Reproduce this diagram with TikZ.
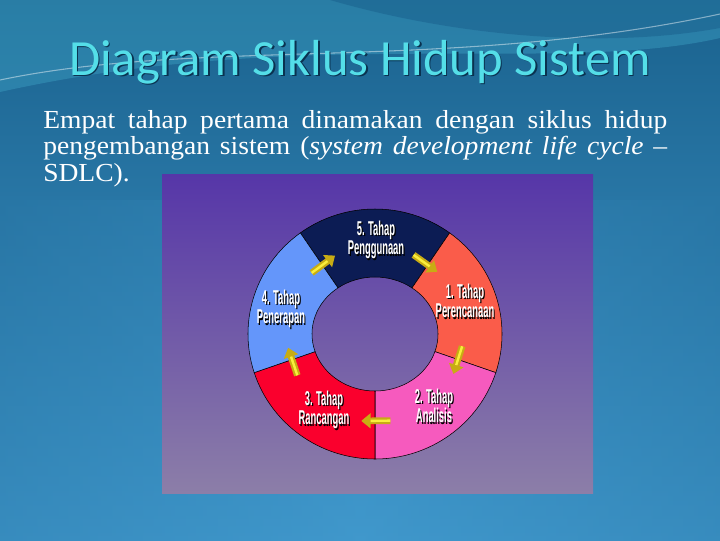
\documentclass[tikz,border=0pt]{standalone}
\usepackage{fontspec}
\usepackage{tikz}
\usetikzlibrary{arrows.meta}
\newfontfamily\titlefont{Carlito}
\newfontfamily\introfont[FakeStretch=1.06]{Liberation Serif}
\newfontfamily\stagefont[FakeStretch=0.47]{Liberation Sans}
\definecolor{slidetop}{RGB}{26,98,142}
\definecolor{slidebot}{RGB}{64,152,204}
\definecolor{slideedge}{RGB}{40,118,165}
\definecolor{paneltop}{RGB}{86,54,168}
\definecolor{panelbot}{RGB}{140,126,168}
\definecolor{titlecyan}{RGB}{84,222,232}
\definecolor{stagenavy}{RGB}{12,28,84}
\definecolor{stagesalmon}{RGB}{250,92,74}
\definecolor{stagepink}{RGB}{246,90,190}
\definecolor{stagered}{RGB}{250,0,45}
\definecolor{stagesky}{RGB}{100,150,250}
\definecolor{flowgold}{RGB}{200,172,20}
\definecolor{flowlight}{RGB}{250,238,60}
\tikzset{
  stage/.style={align=center,text=white,inner sep=0.75pt,font=\stagefont\bfseries\fontsize{15}{14.5}\selectfont},
  sector/.style={draw=black,line width=0.4pt},
  flow/.style={draw=flowgold,line width=5pt,-{Triangle[width=11pt,length=7pt]}},
}
\begin{document}
\begin{tikzpicture}[x=0.75pt,y=0.75pt,yscale=-1,xscale=1]
        \useasboundingbox (0,0) rectangle (720,540);

        %Shape: Slide background
        \shade [top color=slidetop,bottom color=slidebot] (0,0) rectangle (720,540);
        \shade [left color=slideedge,right color=slideedge,middle color=slidebot,opacity=0.35] (0,200) rectangle (720,540);
        %Shape: Waves at the top
        \fill [color={rgb, 255:red, 60; green, 160; blue, 195 },fill opacity=0.45] (0,0) -- (720,0) -- (720,38) .. controls (560,75) and (300,25) .. (0,92) -- cycle ;
        \fill [color={rgb, 255:red, 25; green, 95; blue, 140 },fill opacity=0.5] (330,0) .. controls (450,35) and (600,50) .. (720,28) -- (720,0) -- cycle ;
        \draw [color=white,draw opacity=0.45,line width=0.8] (0,80) .. controls (200,38) and (450,72) .. (720,14) ;

        % Text Node
        \node [anchor=base,inner sep=0.75pt,text={rgb, 255:red, 10; green, 50; blue, 80 },font=\titlefont\fontsize{38}{40}\selectfont] at (361.5,76.5) {Diagram Siklus Hidup Sistem};
        \node (title) [anchor=base,inner sep=0.75pt,text=titlecyan,font=\titlefont\fontsize{38}{40}\selectfont] at (360,75) {Diagram Siklus Hidup Sistem};
        % Text Node
        \node (intro) [anchor=north west,inner sep=0pt,text width=468pt,text=white,align=justify,font=\introfont\fontsize{19.5}{20}\selectfont] at (43,110) {Empat tahap pertama dinamakan dengan siklus hidup\linebreak pengembangan sistem (\textit{system development life cycle} –\linebreak SDLC).};

        %Shape: Panel
        \shade [top color=paneltop,bottom color=panelbot] (162,174) rectangle (593,493);

        %Shape: Ring
        \begin{scope}[shift={(375,334)}]
        \foreach \a/\c [evaluate=\a as \b using \a+72] in {-126/stagenavy,-54/stagesalmon,18/stagepink,90/stagered,162/stagesky}
          \draw [sector,fill=\c] (\a:127 and 125) arc [start angle=\a,end angle=\b,x radius=127,y radius=125] -- (\b:63 and 57) arc [start angle=\b,end angle=\a,x radius=63,y radius=57] -- cycle ;
        %Straight Lines: arrows between the stages
        \foreach \b [count=\i] in {-54,18,90,162,234} {
          \coordinate (tail\i) at (\b-10:88);
          \coordinate (head\i) at (\b+9:88);
          \draw [flow] (tail\i) -- (head\i) ;
          \draw [color=flowlight,line width=1.8pt,shorten >=7pt] (tail\i) -- (head\i) ;
        }
        \end{scope}

        % Text Node
        \foreach \n/\x/\y/\t in {s5/376/240/{5. Tahap\\Penggunaan},s1/465/301/{1. Tahap\\Perencanaan},s2/434/406/{2. Tahap\\Analisis},s3/324/410/{3. Tahap\\Rancangan},s4/281/309/{4. Tahap\\Penerapan}} {
          \node [stage,text=black] at (\x+1.2,\y+1.2) {\t};
          \node (\n) [stage] at (\x,\y) {\t};
        }

    \end{tikzpicture}
\end{document}
